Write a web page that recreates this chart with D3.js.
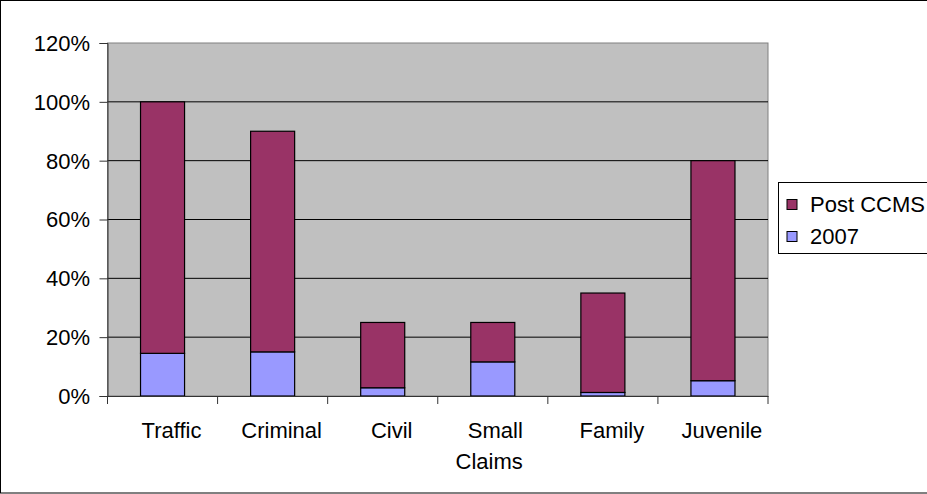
<!DOCTYPE html>
<html><head><meta charset="utf-8">
<script src="https://cdn.jsdelivr.net/npm/d3@7"></script>
<style>body{margin:0;background:#fff}svg{display:block}text{font-family:"Liberation Sans",Arial,sans-serif;fill:#000}</style>
</head><body>
<svg id="c" width="927" height="494"></svg>
<script>
const categories = ["Traffic","Criminal","Civil","Small Claims","Family","Juvenile"];
const series2007 = [14.5, 15.0, 2.8, 11.6, 1.2, 5.2];
const seriesPost = [85.5, 75.0, 22.2, 13.4, 33.8, 74.8];
const yTicks = [0,20,40,60,80,100,120];
const seriesNames = ["2007","Post CCMS"];
const colors = {"2007":"#9999FF","Post CCMS":"#993366"};

const svg = d3.select("#c");
const W=927,H=494,FS=22;
svg.append("rect").attr("x",0.5).attr("y",0.5).attr("width",W+5).attr("height",H-1.5).attr("fill","#fff").attr("stroke","#000");

const L=107.5,R=768,T=43,B=396;
const xb = d3.scaleBand().domain(categories).range([L,R]);
const y = d3.scaleLinear().domain([0,120]).range([B,T]);

svg.append("rect").attr("x",L).attr("y",T).attr("width",R-L).attr("height",B-T).attr("fill","#C0C0C0").attr("stroke","#808080");
svg.append("g").selectAll("line").data(yTicks.filter(d=>d>0&&d<120)).join("line")
  .attr("x1",L).attr("x2",R).attr("y1",d=>y(d)).attr("y2",d=>y(d)).attr("stroke","#000").attr("stroke-width",1);

const rows = categories.map((c,i)=>({cat:c,"2007":series2007[i],"Post CCMS":seriesPost[i]}));
const stacked = d3.stack().keys(seriesNames)(rows);
svg.append("g").selectAll("g").data(stacked).join("g").attr("fill",d=>colors[d.key])
  .selectAll("rect").data(d=>d).join("rect")
  .attr("x",d=>xb(d.data.cat)+xb.bandwidth()*0.3).attr("width",xb.bandwidth()*0.4)
  .attr("y",d=>y(d[1])).attr("height",d=>y(d[0])-y(d[1]))
  .attr("stroke","#000").attr("stroke-width",1.2);

// y axis
const ya = svg.append("g").attr("transform",`translate(${L},0)`)
  .call(d3.axisLeft(y).tickValues(yTicks).tickFormat(d=>d+"%").tickSize(8).tickPadding(9.5));
ya.select(".domain").attr("stroke","#333");
ya.selectAll(".tick line").attr("stroke","#333");
ya.selectAll("text").attr("font-size",FS).attr("font-family","Liberation Sans, Arial, sans-serif").attr("dy","0.34em");

// x axis
const xa = svg.append("g").attr("transform",`translate(0,${B})`)
  .call(d3.axisBottom(xb).tickSize(0).tickFormat(""));
xa.select(".domain").attr("stroke","#333");
xa.selectAll(".tick").remove();
const bounds = categories.map(c=>xb(c)).concat([R]);
xa.selectAll("line.tk").data(bounds).join("line").attr("class","tk")
  .attr("x1",d=>d).attr("x2",d=>d).attr("y1",0).attr("y2",8).attr("stroke","#333");
const lab = svg.append("g").selectAll("text").data(categories).join("text")
  .attr("font-size",FS)
  .attr("transform",d=>`translate(${xb(d)+xb.bandwidth()/2},438)`);
lab.each(function(d){
  const parts = d.split(" ");
  const t = d3.select(this);
  if(parts.length===1){ t.attr("text-anchor","middle").attr("x",9).text(d); }
  else {
    t.attr("text-anchor","end");
    t.append("tspan").attr("x",30).text(parts[0]);
    t.append("tspan").attr("x",30).attr("dy",30.5).text(parts[1]);
  }
});

// legend
const lg = svg.append("g");
lg.append("rect").attr("x",778.5).attr("y",182.5).attr("width",170).attr("height",71).attr("fill","#fff").attr("stroke","#000");
const legItems = ["Post CCMS","2007"];
lg.selectAll("g.it").data(legItems).join("g").attr("class","it")
  .attr("transform",(d,i)=>`translate(787,${199.5+i*32})`)
  .each(function(d){
    const g=d3.select(this);
    g.append("rect").attr("x",0).attr("y",0).attr("width",10).attr("height",10).attr("fill",colors[d]).attr("stroke","#000");
    g.append("text").attr("x",23).attr("y",12.5).attr("font-size",FS).text(d);
  });
</script>
</body></html>
